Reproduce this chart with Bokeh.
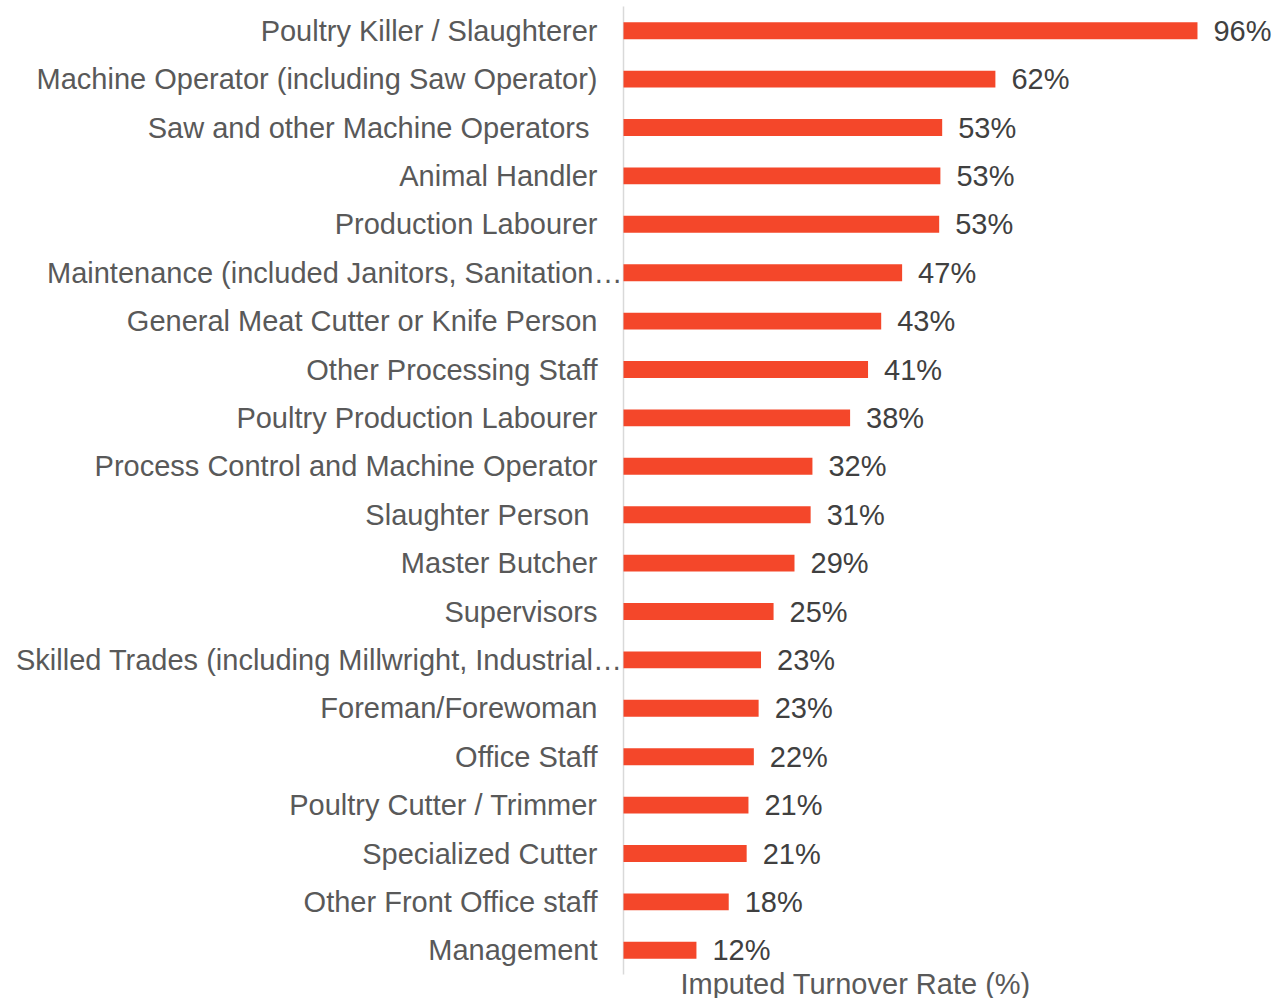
from bokeh.plotting import figure
from bokeh.models import ColumnDataSource, Range1d, Label
from bokeh.core.properties import value
from bokeh.embed import file_html
from bokeh.resources import INLINE

categories = [
    "Poultry Killer / Slaughterer",
    "Machine Operator (including Saw Operator)",
    "Saw and other Machine Operators ",
    "Animal Handler",
    "Production Labourer",
    "Maintenance (included Janitors, Sanitation…",
    "General Meat Cutter or Knife Person",
    "Other Processing Staff",
    "Poultry Production Labourer",
    "Process Control and Machine Operator",
    "Slaughter Person ",
    "Master Butcher",
    "Supervisors",
    "Skilled Trades (including Millwright, Industrial…",
    "Foreman/Forewoman",
    "Office Staff",
    "Poultry Cutter / Trimmer",
    "Specialized Cutter",
    "Other Front Office staff",
    "Management",
]
turnover = [96.0, 62.2, 53.3, 53.0, 52.8, 46.6, 43.1, 40.9, 37.9, 31.6,
            31.3, 28.6, 25.1, 23.0, 22.6, 21.8, 20.9, 20.6, 17.6, 12.2]
axis_title = "Imputed Turnover Rate (%)"

FONT = "Liberation Sans"
FS = "29px"
BAR = "#F4472A"

n = len(categories)
W, H = 1274, 998
ORIGIN = 623          # screen x of the value axis
PX_PER_UNIT = 5.979  # screen px per percentage point
BAND = 48.4          # screen px per category band
TOP = 6              # screen y of top of first band

src = ColumnDataSource(dict(
    pos=[n - 1 - i for i in range(n)],
    cat=categories,
    val=turnover,
    lbl=[f"{round(v)}%" for v in turnover],
    xoff=[-1 if c.endswith("…") else -26 for c in categories],
))

x_start = -ORIGIN / PX_PER_UNIT
x_end = (W - ORIGIN) / PX_PER_UNIT
y_end = n - 0.5 + TOP / BAND
y_start = y_end - H / BAND

p = figure(width=W, height=H,
           x_range=Range1d(x_start, x_end), y_range=Range1d(y_start, y_end),
           output_backend="svg", toolbar_location=None,
           min_border_left=0, min_border_right=0,
           min_border_top=0, min_border_bottom=0)
p.outline_line_color = None
p.xaxis.visible = False
p.yaxis.visible = False
p.xgrid.visible = False
p.ygrid.visible = False

# value axis line
p.segment(x0=[0], x1=[0], y0=[-0.5], y1=[n - 0.5], line_color="#D9D9D9", line_width=1.5)

p.hbar(y="pos", left=0, right="val", height=0.35, source=src,
       fill_color=BAR, line_color=None)

p.text(x="val", y="pos", text="lbl", source=src, x_offset=16,
       text_align="left", text_baseline="middle",
       text_font=value(FONT), text_font_size=FS, text_color="#404040")

p.text(x=0, y="pos", text="cat", source=src, x_offset="xoff",
       text_align="right", text_baseline="middle",
       text_font=value(FONT), text_font_size=FS, text_color="#595959")

p.add_layout(Label(x=680, y=15, x_units="screen", y_units="screen", text=axis_title,
                   text_align="left", text_baseline="alphabetic",
                   text_font=FONT, text_font_size=FS, text_color="#595959"))

open("out.html", "w").write(file_html(p, INLINE))
